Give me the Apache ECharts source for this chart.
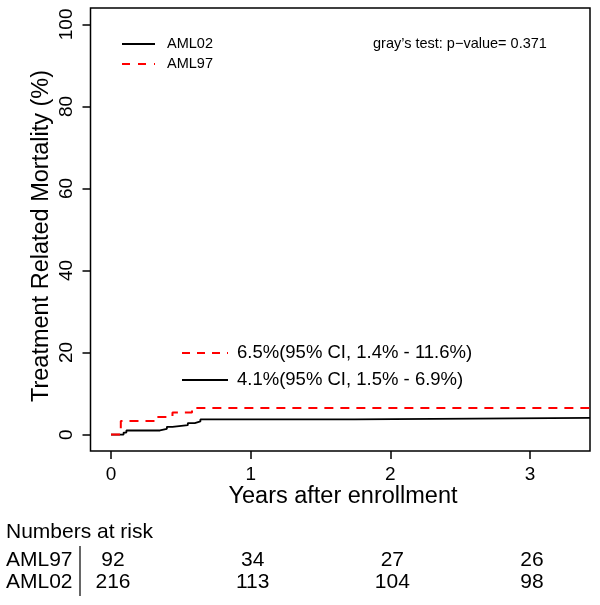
<!DOCTYPE html>
<html>
<head>
<meta charset="utf-8">
<script src="https://cdn.jsdelivr.net/npm/echarts@6/dist/echarts.min.js"></script>
<style>
html,body{margin:0;padding:0;background:#fff;}
#chart{width:600px;height:605px;}
</style>
</head>
<body>
<div id="chart"></div>
<script>
// ---- data ----
const xTicks = [0, 1, 2, 3];
const yTicks = [0, 20, 40, 60, 80, 100];
const aml02Times  = [0, 0.09, 0.11, 0.35, 0.40, 0.44, 0.55, 0.60, 0.64, 1.745, 3.43];
const aml02Values = [0, 0.5, 1.0, 1.4, 1.9, 2.3, 2.8, 3.2, 3.7, 4.1, 4.1];
const aml97Times  = [0, 0.07, 0.33, 0.44, 0.58, 3.43];
const aml97Values = [0, 3.3, 4.3, 5.4, 6.5, 6.5];
const riskTimes = [0, 1, 2, 3];
const riskAML97 = [92, 34, 27, 26];
const riskAML02 = [216, 113, 104, 98];
const legendNames = ['AML02', 'AML97'];
const yTitle = 'Treatment Related Mortality (%)';
const xTitle = 'Years after enrollment';
const pValueText = 'gray\u2019s test: p\u2212value= 0.371';
const ciAML97 = '6.5%(95% CI, 1.4% - 11.6%)';
const ciAML02 = '4.1%(95% CI, 1.5% - 6.9%)';

const FONT = '"Liberation Sans", Arial, Helvetica, sans-serif';
const RED = '#ff0000';

const chart = echarts.init(document.getElementById('chart'), null, {renderer: 'canvas'});

const option = {
  backgroundColor: '#fff',
  animation: false,
  textStyle: {fontFamily: FONT},
  grid: {
    left: 90.5, right: 10, top: 8, bottom: 154,
    show: true, borderColor: '#000', borderWidth: 1.5, backgroundColor: 'transparent'
  },
  xAxis: {
    type: 'value', min: -0.147, max: 3.43,
    axisLine: {show: false, onZero: false},
    splitLine: {show: false},
    axisTick: {show: true, customValues: xTicks, length: 8, inside: false, lineStyle: {color: '#000', width: 1.5}},
    axisLabel: {customValues: xTicks, color: '#000', fontSize: 19, margin: 14, fontFamily: FONT}
  },
  yAxis: {
    type: 'value', min: -4, max: 104,
    axisLine: {show: false, onZero: false},
    splitLine: {show: false},
    axisTick: {show: true, customValues: yTicks, length: 8, lineStyle: {color: '#000', width: 1.5}},
    axisLabel: {customValues: yTicks, color: '#000', fontSize: 19, margin: 14, rotate: 90, fontFamily: FONT}
  },
  series: [
    {
      name: legendNames[0], type: 'line', step: 'end', symbol: 'none',
      data: aml02Times.map((t, i) => [t, aml02Values[i]]),
      lineStyle: {color: '#000', width: 1.8}, z: 3
    },
    {
      name: legendNames[1], type: 'line', step: 'end', symbol: 'none',
      data: aml97Times.map((t, i) => [t, aml97Values[i]]),
      lineStyle: {color: RED, width: 2, type: [9, 7]}, z: 4
    }
  ]
};
chart.setOption(option);

function buildGraphics() {
  const g = [];
  const txt = (x, y, s, size, align, color) => ({
    type: 'text', x: x, y: y,
    style: {text: s, fill: color || '#000', font: size + 'px ' + FONT, textAlign: align || 'left', textVerticalAlign: 'middle'}
  });
  const line = (x1, y1, x2, y2, color, w, dash) => ({
    type: 'line', shape: {x1: x1, y1: y1, x2: x2, y2: y2},
    style: {stroke: color, lineWidth: w, lineDash: dash || null}
  });
  // axis titles
  g.push(txt(343, 497, xTitle, 23.5, 'center'));
  const yt = txt(42, 236, yTitle, 23.5, 'center');
  yt.rotation = Math.PI / 2;
  g.push(yt);
  // top-left legend
  g.push(line(122, 44, 155, 44, '#000', 1.8));
  g.push(txt(167, 44, legendNames[0], 14.5));
  g.push(line(122, 64, 155, 64, RED, 2, [8, 8]));
  g.push(txt(167, 64, legendNames[1], 14.5));
  g.push(txt(373, 44, pValueText, 14.5));
  // CI legend
  g.push(line(182, 353, 228, 353, RED, 2, [8, 7]));
  g.push(txt(237, 353, ciAML97, 18.5));
  g.push(line(182, 380, 228, 380, '#000', 1.8));
  g.push(txt(237, 380, ciAML02, 18.5));
  // numbers at risk
  g.push(txt(6, 532, 'Numbers at risk', 21));
  g.push(txt(6, 560, 'AML97', 21));
  g.push(txt(6, 582, 'AML02', 21));
  g.push(line(80, 546, 80, 596, '#000', 1.2));
  riskTimes.forEach((t, i) => {
    const px = chart.convertToPixel({xAxisIndex: 0}, t);
    g.push(txt(px + 2, 560, String(riskAML97[i]), 21, 'center'));
    g.push(txt(px + 2, 582, String(riskAML02[i]), 21, 'center'));
  });
  chart.setOption({graphic: {elements: g}});
}
buildGraphics();
</script>
</body>
</html>
